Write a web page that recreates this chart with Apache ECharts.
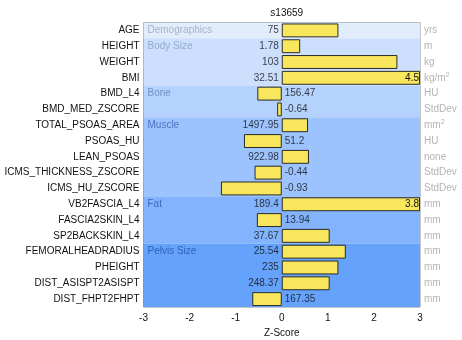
<!DOCTYPE html>
<html>
<head>
<meta charset="utf-8">
<script src="https://cdn.jsdelivr.net/npm/echarts@6/dist/echarts.min.js"></script>
<style>
  html, body { margin: 0; padding: 0; background: #fff; }
  #chart { width: 462px; height: 340px; }
</style>
</head>
<body>
<div id="chart"></div>
<script>
// Measurements shown as rows, with their raw values, z-scores and units
const measures = ['AGE', 'HEIGHT', 'WEIGHT', 'BMI', 'BMD_L4', 'BMD_MED_ZSCORE',
  'TOTAL_PSOAS_AREA', 'PSOAS_HU', 'LEAN_PSOAS', 'ICMS_THICKNESS_ZSCORE', 'ICMS_HU_ZSCORE',
  'VB2FASCIA_L4', 'FASCIA2SKIN_L4', 'SP2BACKSKIN_L4',
  'FEMORALHEADRADIUS', 'PHEIGHT', 'DIST_ASISPT2ASISPT', 'DIST_FHPT2FHPT'];
const rawValues = ['75', '1.78', '103', '32.51', '156.47', '-0.64',
  '1497.95', '51.2', '922.98', '-0.44', '-0.93',
  '189.4', '13.94', '37.67',
  '25.54', '235', '248.37', '167.35'];
const zScores = [1.23, 0.40, 2.51, 4.5, -0.53, -0.10,
  0.57, -0.82, 0.59, -0.59, -1.32,
  3.8, -0.54, 1.04,
  1.39, 1.23, 1.04, -0.64];
const units = ['yrs', 'm', 'kg', 'kg/m{sup|2}', 'HU', 'StdDev',
  'mm{sup|2}', 'HU', 'none', 'StdDev', 'StdDev',
  'mm', 'mm', 'mm',
  'mm', 'mm', 'mm', 'mm'];
// Measurement groups: first row, last row, name
const groupNames = ['Demographics', 'Body Size', 'Bone', 'Muscle', 'Fat', 'Pelvis Size'];
const groupStart = [0, 1, 4, 6, 11, 14];
const groupEnd = [0, 3, 5, 10, 13, 17];
const groupFill = ['#e2edfc', '#cce0fd', '#b4d2fd', '#9cc3fd', '#82b3fc', '#65a2fb'];
const groupText = ['#a3b3cc', '#94a9cc', '#7390c4', '#4f76c0', '#3e69bd', '#3060ba'];
const xTicks = [-3, -2, -1, 0, 1, 2, 3];

const zMin = xTicks[0], zMax = xTicks[xTicks.length - 1];
const FONT = 'Liberation Sans';

const chart = echarts.init(document.getElementById('chart'), null, { renderer: 'canvas' });

const barData = zScores.map((z, i) => {
  const clipped = Math.max(zMin, Math.min(zMax, z));
  const item = { value: clipped };
  if (z > zMax || z < zMin) {
    item.label = { show: true, position: z > zMax ? 'insideRight' : 'insideLeft',
      formatter: String(z), color: '#111', fontSize: 10, fontFamily: FONT, distance: 1 };
  }
  return item;
});

// Raw value labels sit at zero, on the side opposite the bar
const rawLabelData = rawValues.map((v, i) => ({
  value: [0, measures[i]],
  label: { show: true, formatter: v, position: zScores[i] >= 0 ? 'left' : 'right', distance: 3 }
}));

const groupData = groupNames.map((g, k) => [groupStart[k], groupEnd[k], k]);

chart.setOption({
  animation: false,
  title: {
    text: 's13659', left: 281.75, top: 3, textAlign: 'center',
    textStyle: { fontFamily: FONT, fontSize: 10, fontWeight: 'normal', color: '#111' }
  },
  grid: {
    left: 143.5, right: 42, top: 22.5, bottom: 33,
    outerBoundsMode: 'none', containLabel: false,
    show: true, borderColor: '#8a8f96', borderWidth: 1, backgroundColor: 'transparent'
  },
  xAxis: {
    type: 'value', min: zMin, max: zMax, interval: 1,
    name: 'Z-Score', nameLocation: 'middle', nameGap: 19,
    nameTextStyle: { fontFamily: FONT, fontSize: 10, color: '#111' },
    axisLine: { show: false }, axisTick: { show: false }, splitLine: { show: false },
    axisLabel: { fontFamily: FONT, fontSize: 10, color: '#111', margin: 6 }
  },
  yAxis: [{
    type: 'category', data: measures, inverse: true,
    axisLine: { show: false }, axisTick: { show: false },
    axisLabel: { fontFamily: FONT, fontSize: 10, color: '#111', margin: 4 }
  }, {
    type: 'category', data: units, inverse: true, position: 'right',
    axisLine: { show: false }, axisTick: { show: false },
    axisLabel: {
      fontFamily: FONT, fontSize: 10, color: '#b4b4b4', margin: 4, align: 'left',
      formatter: v => v,
      rich: { sup: { fontSize: 7, verticalAlign: 'top', padding: [0, 0, 6, 0], color: '#b4b4b4', fontFamily: FONT } }
    }
  }],
  series: [{
    type: 'custom', z: 1, silent: true,
    xAxisIndex: 0, yAxisIndex: 0,
    data: groupData,
    renderItem: (params, api) => {
      const s = api.value(0), e = api.value(1), k = api.value(2);
      const band = api.size([0, 1])[1];
      const p0 = api.coord([zMin, s]);
      const p1 = api.coord([zMax, e]);
      const y0 = p0[1] - band / 2, y1 = p1[1] + band / 2;
      return {
        type: 'group',
        children: [{
          type: 'rect',
          shape: { x: p0[0], y: y0, width: p1[0] - p0[0], height: y1 - y0 },
          style: { fill: groupFill[k] }
        }, {
          type: 'text',
          style: {
            x: p0[0] + 4, y: p0[1], text: groupNames[k],
            fill: groupText[k], font: '10px ' + FONT, verticalAlign: 'middle'
          },
          z2: 5
        }]
      };
    }
  }, {
    type: 'bar', z: 3, data: barData, barCategoryGap: '12%',
    itemStyle: { color: '#f8e75c', borderColor: '#2a2a2a', borderWidth: 1 },
    label: { show: false }
  }, {
    type: 'scatter', z: 4, symbolSize: 0, data: rawLabelData, silent: true,
    label: { fontFamily: FONT, fontSize: 10, color: '#111' }
  }]
});
</script>
</body>
</html>
